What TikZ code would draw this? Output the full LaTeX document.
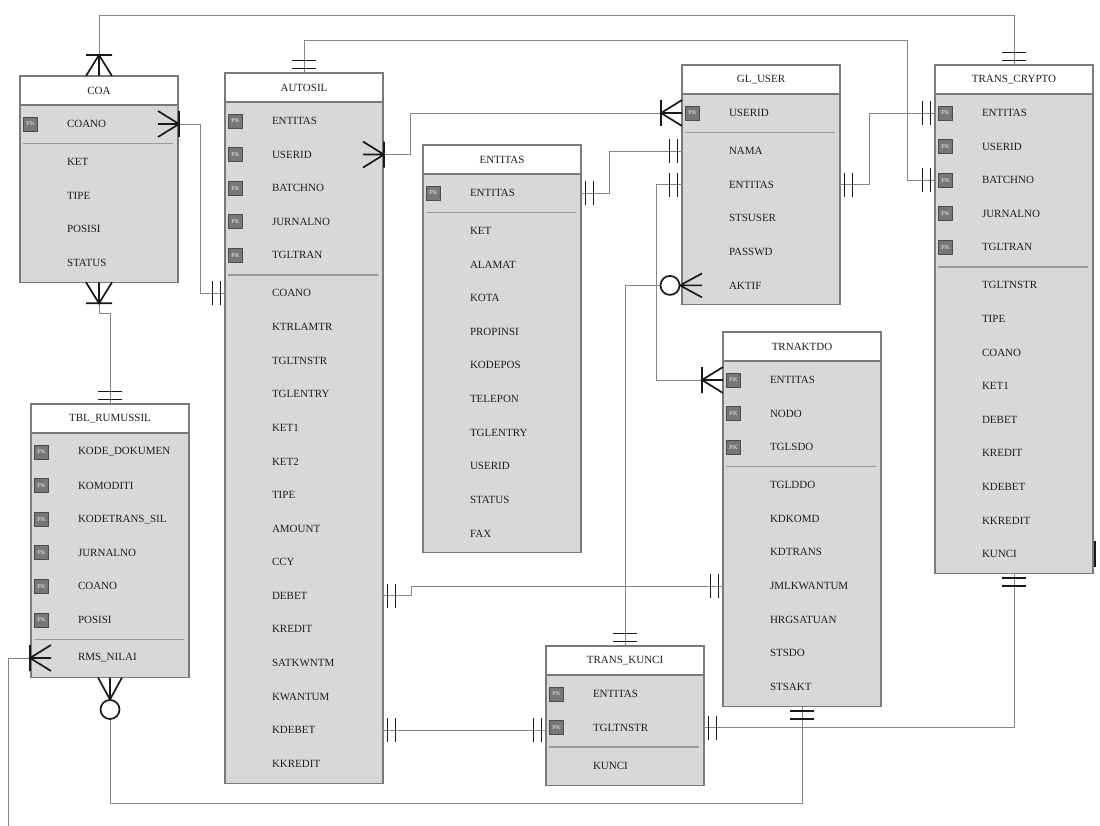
\documentclass[tikz,border=0pt]{standalone}
\usepackage{fontspec}
\setmainfont{Liberation Serif}
\usetikzlibrary{calc}
\definecolor{bodygray}{HTML}{D8D8D8}
\definecolor{edgegray}{HTML}{7A7A7A}
\definecolor{linegray}{HTML}{858585}
\definecolor{pkgray}{HTML}{777777}
\definecolor{txt}{HTML}{1E1E1E}
\tikzset{
  ebox/.style={draw=edgegray, fill=bodygray, line width=1.1pt, minimum width=158pt, inner sep=0pt, outer sep=0pt},
  ehead/.style={draw=edgegray, fill=white, line width=1.1pt, minimum width=158pt, minimum height=29pt, inner sep=0pt, outer sep=0pt, font=\fontsize{11}{12}\selectfont, text=txt},
  field/.style={anchor=west, inner sep=0pt, outer sep=0pt, font=\fontsize{11}{12}\selectfont, text=txt},
  pkicon/.style={draw=black!70, fill=pkgray, line width=0.8pt, minimum size=14pt, inner sep=0pt, font=\fontsize{6}{6}\selectfont\bfseries, text=white!80!black},
  sepline/.style={draw=black!40, line width=1.3pt},
  conn/.style={draw=linegray, line width=0.9pt},
  mk/.style={draw=black!90, line width=1.7pt},
  ermone/.pic={\draw[mk] (4.5,-12) -- (4.5,12) (12.5,-12) -- (12.5,12);},
  ermcf/.pic={\draw[mk] (0,-13) -- (21,0) -- (0,13) (0,0) -- (21,0) (21,-13) -- (21,13);},
  ermzm/.pic={\draw[mk] (0,-12) -- (22,0) -- (0,12) (0,0) -- (22,0); \draw[mk, fill=white] (32,0) circle (9.5pt);},
}
\newcommand\erent[8]{%
  \pgfmathsetmacro\erH{38.3+33.6*(#5+#6)}%
  \pgfmathsetmacro\erFX{#2+47}%
  \pgfmathsetmacro\erIX{#2+10.5}%
  \pgfmathsetmacro\erSep{#3+48+33.6*(#5-1)+19.5}%
  \pgfmathsetmacro\erNY{\erSep+18.5}%
  \pgfmathsetmacro\erSL{#2+3}%
  \pgfmathsetmacro\erSR{#2+153}%
  \node[ebox, minimum height=\erH pt, anchor=north west] (#1) at (#2,#3) {};
  \node[ehead, anchor=north west] (#1-h) at (#2,#3) {#4};
  \foreach \f [count=\i from 0] in {#7} {
    \pgfmathsetmacro\erY{#3+48+33.6*\i}
    \node[pkicon] (#1-k\i) at (\erIX,\erY) {PK};
    \node[field] (#1-p\i) at (\erFX,\erY) {\f};
  }
  \draw[sepline] (\erSL,\erSep) -- (\erSR,\erSep);
  \foreach \f [count=\i from 0] in {#8} {
    \pgfmathsetmacro\erY{\erNY+33.6*\i}
    \node[field] (#1-n\i) at (\erFX,\erY) {\f};
  }
}
\begin{document}
\begin{tikzpicture}[x=1pt,y=-1pt]
\fill[white] (0,0) rectangle (1100,826);
\useasboundingbox (0,0) rectangle (1100,826);

\erent{coa}{20}{76}{COA}{1}{4}{COANO}{KET,TIPE,POSISI,STATUS}
\erent{aut}{225}{73}{AUTOSIL}{5}{15}{ENTITAS,USERID,BATCHNO,JURNALNO,TGLTRAN}{COANO,KTRLAMTR,TGLTNSTR,TGLENTRY,KET1,KET2,TIPE,AMOUNT,CCY,DEBET,KREDIT,SATKWNTM,KWANTUM,KDEBET,KKREDIT}
\erent{ent}{423}{145}{ENTITAS}{1}{10}{ENTITAS}{KET,ALAMAT,KOTA,PROPINSI,KODEPOS,TELEPON,TGLENTRY,USERID,STATUS,FAX}
\erent{gl}{682}{65}{GL\_USER}{1}{5}{USERID}{NAMA,ENTITAS,STSUSER,PASSWD,AKTIF}
\erent{tc}{935}{65}{TRANS\_CRYPTO}{5}{9}{ENTITAS,USERID,BATCHNO,JURNALNO,TGLTRAN}{TGLTNSTR,TIPE,COANO,KET1,DEBET,KREDIT,KDEBET,KKREDIT,KUNCI}
\erent{tbl}{31}{404}{TBL\_RUMUSSIL}{6}{1}{KODE\_DOKUMEN,KOMODITI,KODETRANS\_SIL,JURNALNO,COANO,POSISI}{RMS\_NILAI}
\erent{trn}{723}{332}{TRNAKTDO}{3}{7}{ENTITAS,NODO,TGLSDO}{TGLDDO,KDKOMD,KDTRANS,JMLKWANTUM,HRGSATUAN,STSDO,STSAKT}
\erent{tk}{546}{646}{TRANS\_KUNCI}{2}{1}{ENTITAS,TGLTNSTR}{KUNCI}

% connectors
\coordinate (c2) at (907,40);
\coordinate (c14) at (8,826);
\draw[conn] (coa.north) -- ++(0,-61) -| (tc.north);
\draw[conn] (aut.north) |- (c2) |- (tc.west |- tc-p2);
\draw[conn] (coa.east |- coa-p0) -- ++(22,0) |- (aut.west |- aut-n0);
\draw[conn] (coa.south) -- ++(0,31) -| (tbl.north);
\draw[conn] (aut.east |- aut-p1) -- ++(27,0) |- (gl.west |- gl-p0);
\draw[conn] (ent.east |- ent-p0) -- ++(28,0) |- (gl.west |- gl-n0);
\draw[conn] (gl.west |- gl-n1) -- ++(-26,0) |- (trn.west |- trn-p0);
\draw[conn] (gl.east |- gl-n1) -- ++(29,0) |- (tc.west |- tc-p0);
\draw[conn] (gl.west |- gl-n4) -| (tk.north);
\draw[conn] (aut.east |- aut-n9) -- ++(28,0) |- (trn.west |- trn-n3);
\draw[conn] (aut.east |- aut-n13) -- (tk.west |- aut-n13);
\draw[conn] (tk.east |- tk-p1) -| (tc.south);
\draw[conn] (tbl.south) -- ++(0,125.5) -| (trn.south);
\draw[conn] (tbl.west |- tbl-n0) -| (c14);

% cardinality markers
\pic[rotate=90] at (coa.north) {ermcf};
\pic[rotate=90] at (tc.north) {ermone};
\pic[rotate=90] at (aut.north) {ermone};
\pic[rotate=180] at (tc.west |- tc-p2) {ermone};
\pic at ($(coa.east |- coa-p0)+(-20,0)$) {ermcf};
\pic[rotate=180] at (aut.west |- aut-n0) {ermone};
\pic[rotate=-90] at (coa.south) {ermcf};
\pic[rotate=90] at (tbl.north) {ermone};
\pic at ($(aut.east |- aut-p1)+(-20,0)$) {ermcf};
\pic[rotate=180] at (gl.west |- gl-p0) {ermcf};
\pic at (ent.east |- ent-p0) {ermone};
\pic[rotate=180] at (gl.west |- gl-n0) {ermone};
\pic[rotate=180] at (gl.west |- gl-n1) {ermone};
\pic[rotate=180] at (trn.west |- trn-p0) {ermcf};
\pic at (gl.east |- gl-n1) {ermone};
\pic[rotate=180] at (tc.west |- tc-p0) {ermone};
\pic[rotate=180] at ($(gl.west |- gl-n4)+(20,0)$) {ermzm};
\pic[rotate=90] at (tk.north) {ermone};
\pic at (aut.east |- aut-n9) {ermone};
\pic[rotate=180] at (trn.west |- trn-n3) {ermone};
\pic at (aut.east |- aut-n13) {ermone};
\pic[rotate=180] at (tk.west |- aut-n13) {ermone};
\pic at (tk.east |- tk-p1) {ermone};
\pic[rotate=-90] at (tc.south) {ermone};
\pic[rotate=-90] at (tbl.south) {ermzm};
\pic[rotate=-90] at (trn.south) {ermone};
\pic[rotate=180] at ($(tbl.west |- tbl-n0)+(20,0)$) {ermcf};
\draw[mk] ($(tc.east |- tc-n8)+(2,-13)$) -- ++(0,26);
\end{tikzpicture}
\end{document}
